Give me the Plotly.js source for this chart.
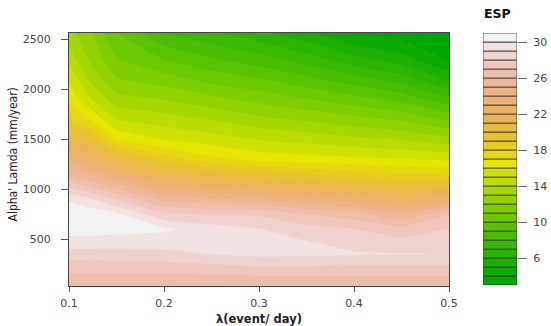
<!DOCTYPE html>
<html>
<head>
<meta charset="utf-8">
<script src="https://cdn.plot.ly/plotly-3.0.1.min.js"></script>
<style>html,body{margin:0;padding:0;background:#fff;}#chart{width:551px;height:326px;}</style>
</head>
<body>
<div id="chart"></div>
<script>
// ---- data ----
const lambdaVals = [0.1, 0.12, 0.15, 0.2, 0.25, 0.3, 0.35, 0.4, 0.45, 0.5];
const alphaLamdaVals = [30, 150, 250, 350, 450, 600, 750, 900, 1100, 1300, 1500, 1700, 1900, 2100, 2300, 2560];
// ESP rows: one row per alphaLamda value, one column per lambda value
const espRow30   = [26.5, 26.5, 26.5, 26.5, 26.5, 26.4, 26.4, 26.4, 26.4, 26.4];
const espRow150  = [26.95, 26.95, 26.95, 26.95, 27.0, 27.1, 27.1, 27.1, 27.1, 27.1];
const espRow250  = [27.7, 27.7, 27.75, 27.8, 28.0, 28.35, 28.25, 28.1, 28.1, 28.1];
const espRow350  = [28.55, 28.55, 28.6, 28.65, 29.05, 29.25, 29.2, 29.1, 29.05, 29.0];
const espRow450  = [29.45, 29.45, 29.45, 29.45, 29.6, 29.6, 29.15, 28.7, 28.45, 28.6];
const espRow600  = [30.5, 30.5, 30.35, 30.15, 29.5, 29.05, 28.4, 28.05, 27.3, 28.05];
const espRow750  = [30.75, 30.6, 30.2, 28.2, 27.85, 27.85, 27.0, 26.4, 25.0, 26.9];
const espRow900  = [29.85, 29.3, 27.85, 25.6, 25.1, 24.85, 23.95, 23.3, 22.3, 23.3];
const espRow1100 = [26.45, 25.7, 24.35, 22.1, 21.3, 20.5, 19.85, 19.25, 18.65, 18.6];
const espRow1300 = [23.7, 22.85, 20.6, 18.6, 17.3, 16.6, 16.4, 16.2, 16.0, 15.8];
const espRow1500 = [21.0, 20.0, 16.9, 15.9, 15.45, 14.9, 14.6, 14.2, 13.9, 13.25];
const espRow1700 = [18.2, 17.1, 14.9, 14.45, 13.9, 13.25, 12.8, 12.3, 11.8, 10.75];
const espRow1900 = [16.6, 15.25, 13.35, 12.95, 12.3, 11.65, 11.0, 10.35, 9.65, 8.25];
const espRow2100 = [15.95, 13.9, 12.05, 11.45, 10.6, 10.05, 9.25, 8.4, 7.5, 5.75];
const espRow2300 = [14.6, 13.0, 11.0, 9.95, 9.1, 8.4, 7.5, 6.3, 5.4, 3.85];
const espRow2560 = [13.3, 12.4, 10.0, 8.0, 7.2, 6.3, 5.2, 3.9, 3.5, 3.25];

const espLevels = [3,4,5,6,7,8,9,10,11,12,13,14,15,16,17,18,19,20,21,22,23,24,25,26,27,28,29,30,31];
const xTicks = [0.1, 0.2, 0.3, 0.4, 0.5];
const yTicks = [500, 1000, 1500, 2000, 2500];
const cbTicks = [6, 10, 14, 18, 22, 26, 30];

const zGrid = [espRow30, espRow150, espRow250, espRow350, espRow450, espRow600, espRow750,
  espRow900, espRow1100, espRow1300, espRow1500, espRow1700, espRow1900, espRow2100, espRow2300, espRow2560];

// ---- terrain.colors palette (as in R) ----
function hsv(h, s, v) {
  const i = Math.floor(h * 6) % 6, f = h * 6 - Math.floor(h * 6);
  const p = v * (1 - s), q = v * (1 - f * s), t = v * (1 - (1 - f) * s);
  let r, g, b;
  switch (i) {
    case 0: r = v; g = t; b = p; break;
    case 1: r = q; g = v; b = p; break;
    case 2: r = p; g = v; b = t; break;
    case 3: r = p; g = q; b = v; break;
    case 4: r = t; g = p; b = v; break;
    default: r = v; g = p; b = q;
  }
  return 'rgb(' + Math.round(r * 255) + ',' + Math.round(g * 255) + ',' + Math.round(b * 255) + ')';
}
function terrain(n) {
  const k = Math.floor(n / 2), out = [];
  for (let i = 0; i < k; i++) {
    const t = k > 1 ? i / (k - 1) : 0;
    out.push(hsv(4/12 + (2/12 - 4/12) * t, 1, 0.65 + 0.25 * t));
  }
  const m = n - k;
  for (let j = 1; j <= m; j++) {
    const t = j / m;
    out.push(hsv(2/12 * (1 - t), 1 - t, 0.9 + 0.05 * t));
  }
  return out;
}
const nBands = espLevels.length - 1;
const bandColors = terrain(nBands);
const bandStarts = espLevels.slice(0, nBands);

// stepped colourscale for Plotly's fill mapping (bg, bands, above)
const cmapColors = [bandColors[0]].concat(bandColors).concat([bandColors[nBands - 1]]);
const N = cmapColors.length - 1;
const colorscale = [];
cmapColors.forEach((c, k) => {
  colorscale.push([Math.max(0, (k - 0.5) / N), c]);
  colorscale.push([Math.min(1, (k + 0.5) / N), c]);
});

const W = 551, H = 326;
const px = v => v / W, py = v => 1 - v / H;
const tickFont = {family: 'DejaVu Sans, Arial, sans-serif', size: 11, color: '#444'};

const traces = [
  {
    type: 'contour', x: lambdaVals, y: alphaLamdaVals, z: zGrid,
    xaxis: 'x', yaxis: 'y',
    colorscale: colorscale, showscale: false,
    autocontour: false,
    contours: {start: espLevels[0], end: espLevels[espLevels.length - 1], size: 1, coloring: 'fill', showlines: false},
    line: {width: 0, smoothing: 0},
    hoverinfo: 'skip'
  },
  {
    type: 'bar', x: bandStarts.map(() => 0), y: bandStarts.map(() => 1), base: bandStarts,
    width: bandStarts.map(() => 1),
    xaxis: 'x2', yaxis: 'y2',
    marker: {color: bandColors, line: {color: '#333', width: 0.8}},
    hoverinfo: 'skip', showlegend: false
  }
];

const layout = {
  width: W, height: H,
  margin: {l: 0, r: 0, t: 0, b: 0},
  paper_bgcolor: '#fff', plot_bgcolor: '#fff',
  showlegend: false, bargap: 0,
  xaxis: {
    domain: [px(69), px(449)], range: [0.1, 0.5], anchor: 'y',
    tickvals: xTicks, ticktext: xTicks.map(String), ticks: 'outside', ticklen: 5, tickcolor: '#555',
    showline: true, mirror: true, linecolor: '#444', linewidth: 1,
    showgrid: false, zeroline: false, tickfont: tickFont, ticklabelstandoff: 2, automargin: false
  },
  yaxis: {
    domain: [py(286), py(33)], range: [30, 2560], anchor: 'x',
    tickvals: yTicks, ticktext: yTicks.map(String), ticks: 'outside', ticklen: 7, tickcolor: '#555',
    showline: true, mirror: true, linecolor: '#444', linewidth: 1,
    showgrid: false, zeroline: false, tickfont: tickFont, ticklabelstandoff: 8, automargin: false
  },
  xaxis2: {
    domain: [px(483), px(517)], range: [-0.5, 0.5], anchor: 'y2',
    showticklabels: false, ticks: '', showgrid: false, zeroline: false, showline: false, fixedrange: true
  },
  yaxis2: {
    domain: [py(285), py(33)], range: [espLevels[0], espLevels[espLevels.length - 1]], anchor: 'x2', side: 'right',
    tickvals: cbTicks, ticktext: cbTicks.map(String), ticks: 'outside', ticklen: 9, tickcolor: '#666',
    showgrid: false, zeroline: false, showline: false, tickfont: tickFont, ticklabelstandoff: 4, automargin: false
  },
  annotations: [
    {text: 'ESP', xref: 'paper', yref: 'paper', x: px(497), y: py(13.5), xanchor: 'center', yanchor: 'middle',
     showarrow: false, font: {family: 'DejaVu Sans, Arial, sans-serif', size: 12.5, color: '#111', weight: 'bold'}},
    {text: 'Alpha\' Lamda (mm/year)', xref: 'paper', yref: 'paper', x: px(12.5), y: py(155), textangle: -90,
     xanchor: 'center', yanchor: 'middle', showarrow: false,
     font: {family: 'Liberation Sans Narrow, Arial Narrow, DejaVu Sans Condensed, sans-serif', size: 12, color: '#222'}},
    {text: 'λ(event/ day)', xref: 'paper', yref: 'paper', x: px(258.5), y: py(319),
     xanchor: 'center', yanchor: 'middle', showarrow: false,
     font: {family: 'DejaVu Sans, Arial, sans-serif', size: 11.5, color: '#222', weight: 'bold'}}
  ]
};

Plotly.newPlot('chart', traces, layout, {staticPlot: true, displayModeBar: false});
</script>
</body>
</html>
